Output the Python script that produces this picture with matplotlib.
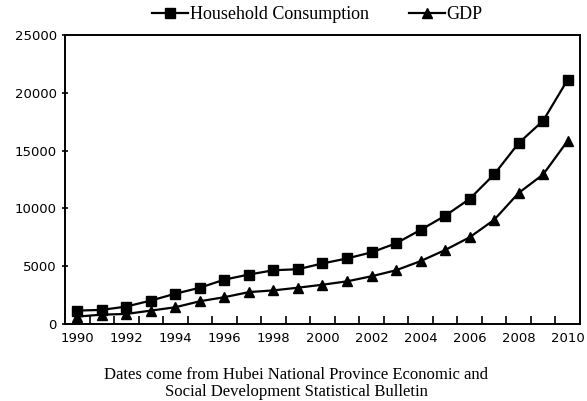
import matplotlib.pyplot as plt
from matplotlib.ticker import FixedLocator, MultipleLocator

# Hubei household consumption and GDP, 1990-2010
years = list(range(1990, 2011))
household = [1160, 1220, 1510, 2030, 2620, 3140, 3840, 4280, 4650, 4740, 5240,
             5670, 6200, 6980, 8140, 9360, 10820, 12940, 15650, 17590, 21140]
gdp = [640, 810, 870, 1160, 1450, 1970, 2320, 2760, 2910, 3140, 3400,
       3690, 4130, 4650, 5440, 6400, 7500, 9010, 11340, 12940, 15850]
year_labels = [str(y) for y in range(1990, 2011, 2)]

serif = 'Liberation Serif'

fig = plt.figure(figsize=(5.87, 4.01), dpi=100)
ax = fig.add_axes([0.1107, 0.192, 0.8773, 0.7206])

ax.plot(years, household, color='black', lw=1.6, marker='s', ms=7,
        label='Household Consumption')
ax.plot(years, gdp, color='black', lw=1.6, marker='^', ms=7, label='GDP')

ax.set_xlim(1989.5, 2010.5)
ax.set_ylim(0, 25000)

# even years labelled, tick marks sit between the yearly categories
ax.set_xticks(range(1990, 2011, 2))
ax.set_xticklabels(year_labels)
ax.tick_params(axis='x', which='major', length=0, pad=6, labelsize=9.5)
ax.xaxis.set_minor_locator(FixedLocator([y + 0.5 for y in range(1990, 2010)]))
ax.tick_params(axis='x', which='minor', direction='in', length=6, width=1.2)

ax.yaxis.set_major_locator(MultipleLocator(5000))
ax.tick_params(axis='y', direction='inout', length=4, width=1.2, labelsize=9.5, pad=4)

for s in ax.spines.values():
    s.set_linewidth(1.4)

ax.legend(loc='lower center', bbox_to_anchor=(0.49, 1.01), ncol=2, frameon=False,
          prop={'family': serif, 'size': 13}, handlelength=2.0, handletextpad=0.1,
          columnspacing=2.2, borderaxespad=0.1)

fig.text(0.505, 0.043, 'Dates come from Hubei National Province Economic and\n'
         'Social Development Statistical Bulletin',
         ha='center', va='center', family=serif, fontsize=12, linespacing=1.05)

fig.savefig('out.png', dpi=100)
